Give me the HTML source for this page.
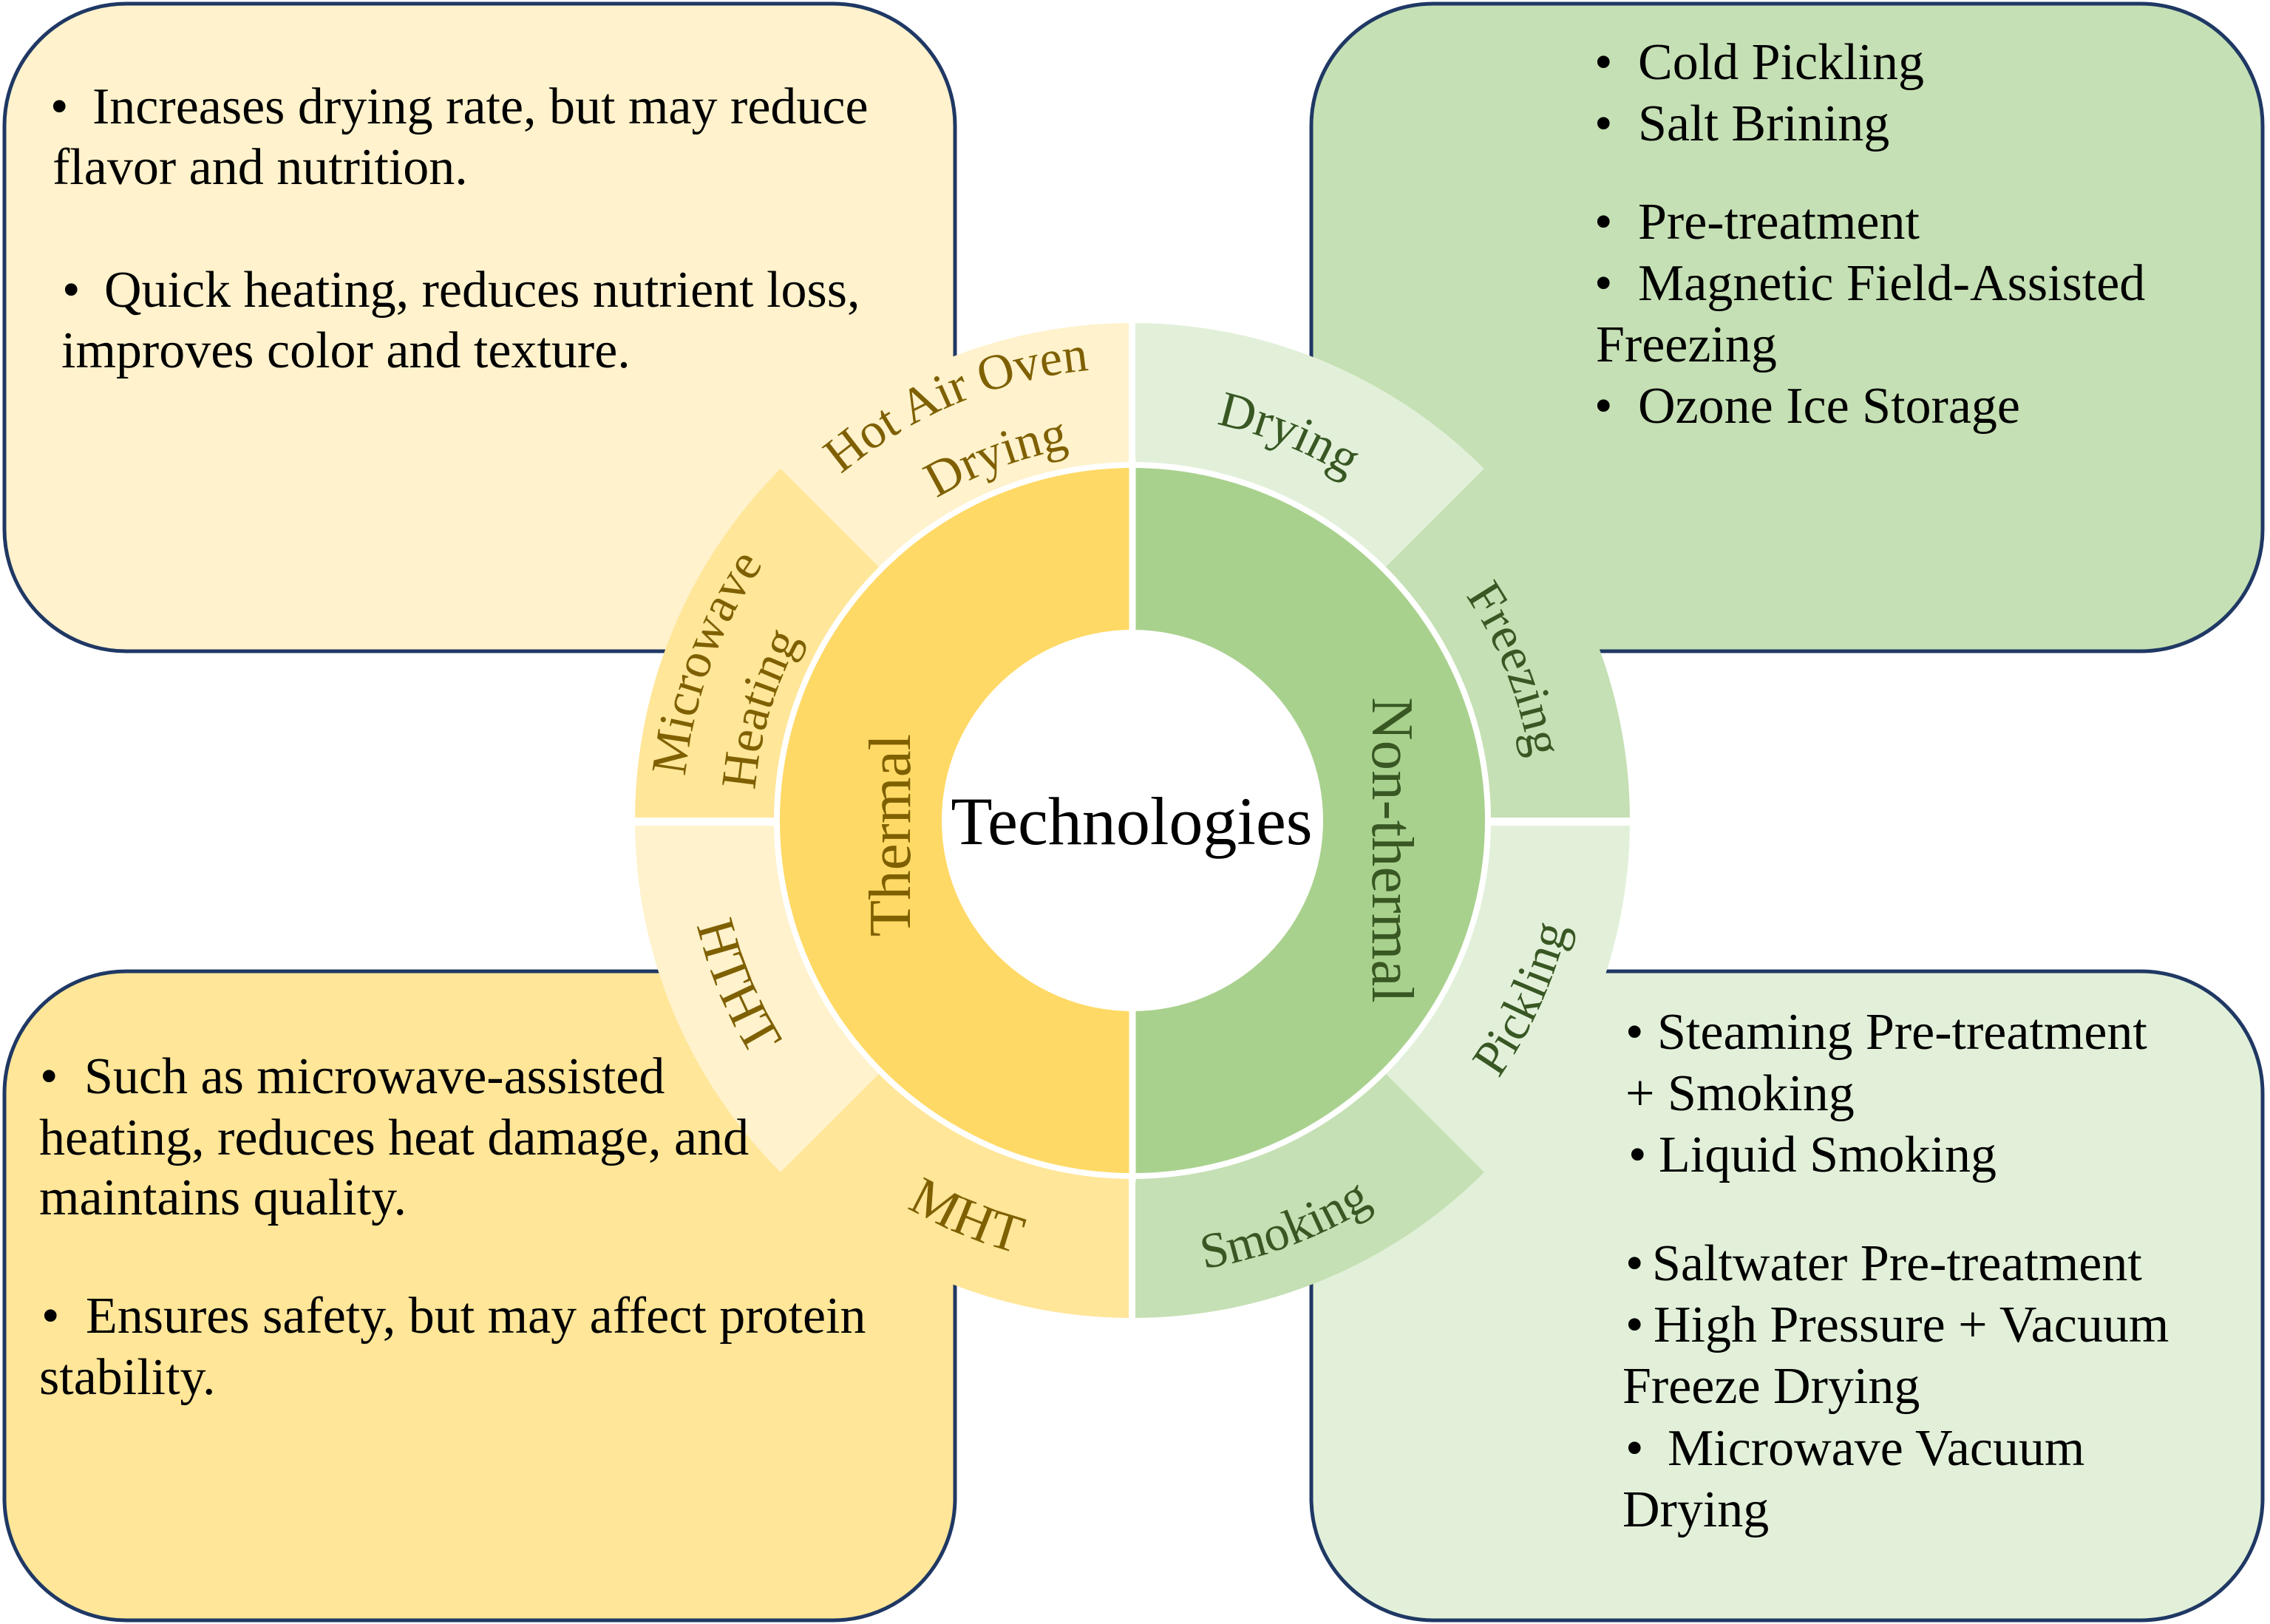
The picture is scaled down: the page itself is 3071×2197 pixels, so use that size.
<!DOCTYPE html>
<html>
<head>
<meta charset="utf-8">
<style>
  html,body{margin:0;padding:0;background:#ffffff;}
  svg{display:block;}
  .bx{font-family:"Liberation Serif","Times New Roman",serif;font-size:70px;fill:#000;}
  .lb{font-family:"Liberation Serif","Times New Roman",serif;font-size:68px;}
  .cap{font-size:73px;}
  .th{fill:#7f6000;}
  .nt{fill:#385723;}
</style>
</head>
<body>
<svg xmlns="http://www.w3.org/2000/svg" width="3071" height="2197" viewBox="0 0 3071 2197">
  <defs>
    <!-- top arcs (clockwise, through top) -->
    <path id="t612" d="M 920 1110 A 612 612 0 0 1 2144 1110"/>
    <path id="t510" d="M 1022 1110 A 510 510 0 0 1 2042 1110"/>
    <path id="t608" d="M 924 1110 A 608 608 0 0 1 2140 1110"/>
    <path id="t512" d="M 1020 1110 A 512 512 0 0 1 2044 1110"/>
    <path id="t548" d="M 984 1110 A 548 548 0 0 1 2080 1110"/>
    <path id="t544" d="M 988 1110 A 544 544 0 0 1 2076 1110"/>
    <!-- bottom arcs (counter-clockwise, through bottom) -->
    <path id="b606" d="M 926 1110 A 606 606 0 0 0 2138 1110"/>
    <path id="b614" d="M 918 1110 A 614 614 0 0 0 2146 1110"/>
  </defs>

  <rect x="0" y="0" width="3071" height="2197" fill="#ffffff"/>

  <!-- Boxes -->
  <rect x="6" y="5" width="1286" height="876" rx="165" ry="165" fill="#fff2cc" stroke="#1f3864" stroke-width="5"/>
  <rect x="1774" y="5" width="1287" height="876" rx="165" ry="165" fill="#c5e0b4" stroke="#1f3864" stroke-width="5"/>
  <rect x="6" y="1314" width="1286" height="878" rx="165" ry="165" fill="#ffe699" stroke="#1f3864" stroke-width="5"/>
  <rect x="1774" y="1314" width="1287" height="878" rx="165" ry="165" fill="#e2f0d9" stroke="#1f3864" stroke-width="5"/>

  <!-- Outer ring wedges -->
  <path d="M 1532 1110 L 1056.1 634.1 A 673 673 0 0 1 1532 437 Z" fill="#fff2cc"/>
  <path d="M 1532 1110 L 859 1110 A 673 673 0 0 1 1056.1 634.1 Z" fill="#ffe699"/>
  <path d="M 1532 1110 L 1056.1 1585.9 A 673 673 0 0 1 859 1110 Z" fill="#fff2cc"/>
  <path d="M 1532 1110 L 1532 1783 A 673 673 0 0 1 1056.1 1585.9 Z" fill="#ffe699"/>
  <path d="M 1532 1110 L 1532 437 A 673 673 0 0 1 2007.9 634.1 Z" fill="#e2f0d9"/>
  <path d="M 1532 1110 L 2007.9 634.1 A 673 673 0 0 1 2205 1110 Z" fill="#c5e0b4"/>
  <path d="M 1532 1110 L 2205 1110 A 673 673 0 0 1 2007.9 1585.9 Z" fill="#e2f0d9"/>
  <path d="M 1532 1110 L 2007.9 1585.9 A 673 673 0 0 1 1532 1783 Z" fill="#c5e0b4"/>

  <!-- Outer separators -->
  <rect x="1527" y="430" width="9" height="1360" fill="#ffffff"/>
  <rect x="850" y="1106" width="1365" height="11" fill="#ffffff"/>

  <!-- white gap ring -->
  <circle cx="1532" cy="1110" r="485" fill="#ffffff"/>

  <!-- Middle ring -->
  <path d="M 1532 633 A 477 477 0 0 0 1532 1587 Z" fill="#ffd966"/>
  <path d="M 1532 633 A 477 477 0 0 1 1532 1587 Z" fill="#a9d18e"/>
  <rect x="1527.5" y="620" width="9" height="980" fill="#ffffff"/>

  <!-- Inner white circle -->
  <circle cx="1532" cy="1110" r="258" fill="#ffffff"/>

  <!-- Center texts -->
  <text x="1531" y="1142" text-anchor="middle" font-family="'Liberation Serif','Times New Roman',serif" font-size="92" fill="#000">Technologies</text>
  <text transform="translate(1231,1130) rotate(-90)" x="0" y="0" text-anchor="middle" font-family="'Liberation Serif','Times New Roman',serif" font-size="81" fill="#7f6000">Thermal</text>
  <text transform="translate(1857,1150) rotate(90)" x="0" y="0" text-anchor="middle" font-family="'Liberation Serif','Times New Roman',serif" font-size="81" fill="#385723">Non-thermal</text>

  <!-- Outer ring labels -->
  <g transform="rotate(-22.8 1532 1110)">
    <text class="lb th" text-anchor="middle"><textPath href="#t612" startOffset="50%">Hot Air Oven</textPath></text>
  </g>
  <g transform="rotate(-20.5 1532 1110)">
    <text class="lb th" text-anchor="middle"><textPath href="#t510" startOffset="50%">Drying</textPath></text>
  </g>
  <g transform="rotate(-69.8 1532 1110)">
    <text class="lb th" text-anchor="middle"><textPath href="#t608" startOffset="50%">Microwave</textPath></text>
  </g>
  <g transform="rotate(-73.4 1532 1110)">
    <text class="lb th" text-anchor="middle"><textPath href="#t512" startOffset="50%">Heating</textPath></text>
  </g>
  <g transform="rotate(67.3 1532 1110)">
    <text class="lb cap th" text-anchor="middle"><textPath href="#b606" startOffset="50%">HTHT</textPath></text>
  </g>
  <g transform="rotate(22.6 1532 1110)">
    <text class="lb cap th" text-anchor="middle"><textPath href="#b606" startOffset="50%">MHT</textPath></text>
  </g>
  <g transform="rotate(22 1532 1110)">
    <text class="lb nt" text-anchor="middle"><textPath href="#t548" startOffset="50%">Drying</textPath></text>
  </g>
  <g transform="rotate(68.5 1532 1110)">
    <text class="lb nt" text-anchor="middle"><textPath href="#t544" startOffset="50%">Freezing</textPath></text>
  </g>
  <g transform="rotate(-65.5 1532 1110)">
    <text class="lb nt" text-anchor="middle"><textPath href="#b606" startOffset="50%">Pickling</textPath></text>
  </g>
  <g transform="rotate(-20.5 1532 1110)">
    <text class="lb nt" text-anchor="middle"><textPath href="#b614" startOffset="50%">Smoking</textPath></text>
  </g>

  <!-- Top-left box text -->
  <text class="bx" x="68" y="167">•</text>
  <text class="bx" x="125" y="167">Increases drying rate, but may reduce</text>
  <text class="bx" x="71" y="249">flavor and nutrition.</text>
  <text class="bx" x="84" y="415">•</text>
  <text class="bx" x="141" y="415">Quick heating, reduces nutrient loss,</text>
  <text class="bx" x="83" y="497">improves color and texture.</text>

  <!-- Top-right box text -->
  <text class="bx" x="2157" y="107">•</text>
  <text class="bx" x="2216" y="107">Cold Pickling</text>
  <text class="bx" x="2157" y="190">•</text>
  <text class="bx" x="2216" y="190">Salt Brining</text>
  <text class="bx" x="2157" y="323">•</text>
  <text class="bx" x="2216" y="323">Pre-treatment</text>
  <text class="bx" x="2157" y="406">•</text>
  <text class="bx" x="2216" y="406">Magnetic Field-Assisted</text>
  <text class="bx" x="2159" y="489">Freezing</text>
  <text class="bx" x="2157" y="572">•</text>
  <text class="bx" x="2216" y="572">Ozone Ice Storage</text>

  <!-- Bottom-left box text -->
  <text class="bx" x="54" y="1479">•</text>
  <text class="bx" x="114" y="1479">Such as microwave-assisted</text>
  <text class="bx" x="53" y="1562">heating, reduces heat damage, and</text>
  <text class="bx" x="53" y="1643">maintains quality.</text>
  <text class="bx" x="56" y="1803">•</text>
  <text class="bx" x="116" y="1803">Ensures safety, but may affect protein</text>
  <text class="bx" x="53" y="1886">stability.</text>

  <!-- Bottom-right box text -->
  <text class="bx" x="2199" y="1419">•</text>
  <text class="bx" x="2242" y="1419">Steaming Pre-treatment</text>
  <text class="bx" x="2199" y="1502">+ Smoking</text>
  <text class="bx" x="2203" y="1585">•</text>
  <text class="bx" x="2244" y="1585">Liquid Smoking</text>
  <text class="bx" x="2199" y="1732">•</text>
  <text class="bx" x="2235" y="1732">Saltwater Pre-treatment</text>
  <text class="bx" x="2199" y="1815">•</text>
  <text class="bx" x="2237" y="1815">High Pressure + Vacuum</text>
  <text class="bx" x="2195" y="1898">Freeze Drying</text>
  <text class="bx" x="2199" y="1982">•</text>
  <text class="bx" x="2256" y="1982">Microwave Vacuum</text>
  <text class="bx" x="2195" y="2065">Drying</text>
</svg>
</body>
</html>
